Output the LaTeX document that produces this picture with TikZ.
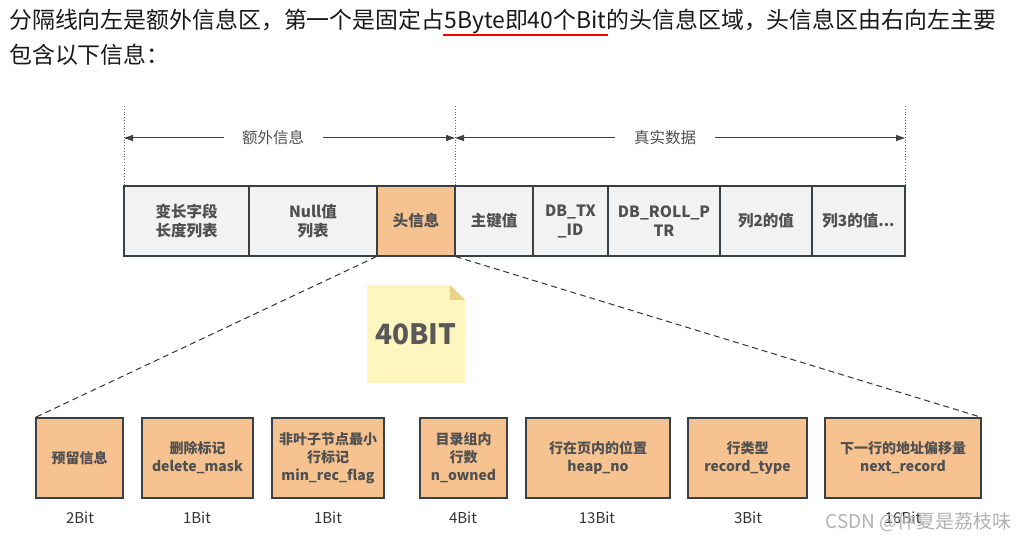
\documentclass[tikz,border=0pt]{standalone}
\usepackage{fontspec}
\setmainfont{Noto Sans CJK SC}
\usetikzlibrary{arrows.meta,positioning}
\definecolor{boxgray}{HTML}{F2F2F2}
\definecolor{boxorange}{HTML}{F5C290}
\definecolor{edge}{HTML}{3A3F44}
\definecolor{txt}{HTML}{505050}
\definecolor{notefill}{HTML}{FFF5BF}
\definecolor{notefold}{HTML}{E8D38A}
\tikzset{
  headtext/.style={inner sep=0pt, font=\fontsize{22.9}{27}\selectfont, text=black!90},
  rowbox/.style={draw=edge, line width=1.2pt, fill=boxgray, minimum height=70pt, inner sep=0pt, align=center, font=\fontsize{15.5}{19}\selectfont\bfseries, text=txt},
  hdrbox/.style={rowbox, fill=boxorange},
  bitbox/.style={draw=edge, line width=1.2pt, fill=boxorange, minimum height=80pt, inner sep=0pt, align=center, font=\fontsize{14}{18}\selectfont\bfseries, text=txt},
  bitlbl/.style={font=\fontsize{15}{18}\selectfont, text=black!80, inner sep=0pt},
  guide/.style={dotted, line width=0.8pt, draw=black!60},
  span/.style={line width=1pt, draw=black!75, -{Triangle[length=9pt,width=6pt]}},
  spanlbl/.style={font=\fontsize{15.5}{18}\selectfont, text=txt, inner sep=0pt},
  connector/.style={line width=1pt, draw=black!80, dash pattern=on 6pt off 4pt}
}
\begin{document}
\begin{tikzpicture}[x=1pt,y=-1pt]
\useasboundingbox (0,0) rectangle (1016,540);
\fill[white] (0,0) rectangle (1016,540);

% top text
\node[headtext, anchor=base west] (t1a) at (9,29) {分隔线向左是额外信息区，第一个是固定占};
\node[headtext, anchor=base west] (t1b) at (t1a.base east) {5Byte即40个Bit};
\node[headtext, anchor=base west] (t1c) at (t1b.base east) {的头信息区域，头信息区由右向左主要};
\node[headtext, anchor=base west] (t2) at (9,64) {包含以下信息：};
\coordinate (u1) at ([xshift=-2pt,yshift=-6pt]t1b.base west);
\coordinate (u2) at ([xshift=2pt,yshift=-6pt]t1b.base east);
\draw[red, line width=1.6pt] (u1) -- (u2);

% guide lines
\coordinate (g1t) at (124,106); \coordinate (g1b) at (124,186);
\coordinate (g2t) at (455,106); \coordinate (g2b) at (455,186);
\coordinate (g3t) at (905,106); \coordinate (g3b) at (905,186);
\draw[guide] (g1t) -- (g1b);
\draw[guide] (g2t) -- (g2b);
\draw[guide] (g3t) -- (g3b);

% span labels
\node[spanlbl] (extra) at (273,138) {额外信息};
\node[spanlbl] (real) at (665,138) {真实数据};
\coordinate (a1) at (124,138); \coordinate (a2) at (455,138); \coordinate (a3) at (905,138);
\coordinate (e1) at (224,138); \coordinate (e2) at (323,138);
\coordinate (r1) at (615,138); \coordinate (r2) at (715,138);
\draw[span] (e1) -- (a1);
\draw[span] (e2) -- (a2);
\draw[span] (r1) -- (a2);
\draw[span] (r2) -- (a3);

% row boxes
\node[rowbox, minimum width=125pt] (b1) at (186.5,221) {变长字段\\长度列表};
\node[rowbox, minimum width=128pt] (b2) at (313,221) {Null值\\列表};
\node[hdrbox, minimum width=78pt] (b3) at (416,221) {头信息};
\node[rowbox, minimum width=78pt] (b4) at (494,221) {主键值};
\node[rowbox, minimum width=75pt] (b5) at (570.5,221) {DB\_TX\\\_ID};
\node[rowbox, minimum width=112pt] (b6) at (664,221) {DB\_ROLL\_P\\TR};
\node[rowbox, minimum width=92pt] (b7) at (766,221) {列2的值};
\node[rowbox, minimum width=93pt] (b8) at (858.5,221) {列3的值...};

% note
\fill[notefill] (367,285) -- (450,285) -- (465,300) -- (465,383) -- (367,383) -- cycle;
\fill[notefold] (450,285) -- (465,300) -- (450,300) -- cycle;
\node[font=\fontsize{28}{32}\selectfont\bfseries, text=black!65] (note) at (416,334) {40BIT};

% bit boxes
\node[bitbox, minimum width=87pt] (c1) at (79.5,458) {预留信息};
\node[bitbox, minimum width=111pt] (c2) at (197.5,458) {删除标记\\delete\_mask};
\node[bitbox, minimum width=112pt] (c3) at (328,458) {非叶子节点最小\\行标记\\min\_rec\_flag};
\node[bitbox, minimum width=87pt] (c4) at (463.5,458) {目录组内\\行数\\n\_owned};
\node[bitbox, minimum width=144pt] (c5) at (598,458) {行在页内的位置\\heap\_no};
\node[bitbox, minimum width=119pt] (c6) at (747.5,458) {行类型\\record\_type};
\node[bitbox, minimum width=156pt] (c7) at (903,458) {下一行的地址偏移量\\next\_record};

% connectors
\draw[connector] (b3.south west) -- (c1.north west);
\draw[connector] (b3.south east) -- (c7.north east);

% bit labels
\node[bitlbl] (l1) at (80,518) {2Bit};
\node[bitlbl] (l2) at (197,518) {1Bit};
\node[bitlbl] (l3) at (328,518) {1Bit};
\node[bitlbl] (l4) at (463,518) {4Bit};
\node[bitlbl] (l5) at (597,518) {13Bit};
\node[bitlbl] (l6) at (748,518) {3Bit};
\node[bitlbl] (l7) at (903,518) {16Bit};

% watermark
\node[anchor=east, inner sep=0pt, font=\fontsize{19}{22}\selectfont, text=black!30] (wm) at (1012,522) {CSDN @仲夏是荔枝味};
\end{tikzpicture}
\end{document}
